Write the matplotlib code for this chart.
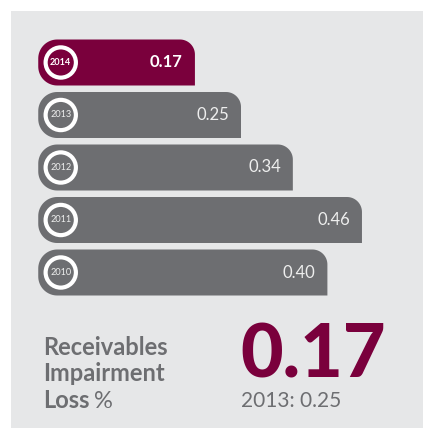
import numpy as np
import matplotlib
matplotlib.use("Agg")
import matplotlib.pyplot as plt
from matplotlib.patches import Polygon, Rectangle

# data
years = ["2014", "2013", "2012", "2011", "2010"]
values = [0.17, 0.25, 0.34, 0.46, 0.40]
value_labels = ["0.17", "0.25", "0.34", "0.46", "0.40"]
headline = "0.17"
previous = "2013: 0.25"

W, H = 423, 428
plum = "#7A003C"
grey = "#6D6E71"
panel = "#E6E7E8"

plt.rcParams["font.family"] = ["Lato", "DejaVu Sans"]

fig = plt.figure(figsize=(W / 100, H / 100), dpi=100)
fig.patch.set_facecolor("white")
fig.patches.append(Rectangle((11 / W, 0), 1, (H - 11) / H, transform=fig.transFigure,
                             facecolor=panel, edgecolor="none", zorder=-5))

ax = fig.add_axes([0, 0, 1, 1])
ax.axis("off")
ax.patch.set_alpha(0)
ax.set_zorder(2)

# pixel scale of the axes: 576 px per unit, 0 at x=97 px; rows 52.5 px apart
sx, sy = 576.0, 52.5
ax.set_xlim(-97 / sx, (W - 97) / sx)
ax.set_ylim((H - 62.5) / sy, -62.5 / sy)

bar_left = -0.102
bar_h = 46 / sy


def bar_outline(x0, x1, yc, h, rl=19, rtr=15):
    # outline in local pixels (y down), then back to data units
    w, hp = (x1 - x0) * sx, h * sy
    pts = []
    for t in np.linspace(np.pi, 1.5 * np.pi, 20):
        pts.append((rl + rl * np.cos(t), rl + rl * np.sin(t)))
    for t in np.linspace(1.5 * np.pi, 2 * np.pi, 20):
        pts.append((w - rtr + rtr * np.cos(t), rtr + rtr * np.sin(t)))
    pts.append((w, hp))
    for t in np.linspace(0.5 * np.pi, np.pi, 20):
        pts.append((rl + rl * np.cos(t), hp - rl + rl * np.sin(t)))
    pts = np.array(pts)
    return np.column_stack([x0 + pts[:, 0] / sx, yc - h / 2 + pts[:, 1] / sy])


for i, (yr, v, lab) in enumerate(zip(years, values, value_labels)):
    col = plum if i == 0 else grey
    ax.add_patch(Polygon(bar_outline(bar_left, v, i, bar_h), closed=True,
                         facecolor=col, edgecolor="none", zorder=2))
    cx = bar_left + 22.5 / sx
    ax.scatter([cx], [i], s=21.8 ** 2, facecolor="none", edgecolor="white",
               linewidth=3.0, zorder=3)
    ax.text(cx, i, yr, ha="center", va="center", fontsize=6.6,
            color="white" if i == 0 else "#EEEEEE",
            fontweight="bold" if i == 0 else "normal", zorder=4)
    ax.text(v - 12 / sx, i, lab, ha="right", va="center", fontsize=12,
            color="white" if i == 0 else "#EEEEEE",
            fontweight="bold" if i == 0 else "normal", zorder=4)

# caption block
fig.text(43 / W, (H - 355) / H, "Receivables", fontsize=17, fontweight="bold",
         color=grey, va="baseline")
fig.text(43 / W, (H - 381) / H, "Impairment", fontsize=17, fontweight="bold",
         color=grey, va="baseline")
loss = fig.text(43 / W, (H - 408) / H, "Loss", fontsize=17, fontweight="bold",
                color=grey, va="baseline")
ax.annotate("%", xy=(1, 0), xycoords=loss, xytext=(3, 0),
            textcoords="offset points", fontsize=17, color=grey,
            va="bottom", ha="left")

fig.text(240 / W, (H - 378) / H, headline, fontsize=53, fontweight="black",
         color=plum, va="baseline")
fig.text(241 / W, (H - 407) / H, previous, fontsize=15, color=grey,
         va="baseline")

fig.savefig("out.png", dpi=100)
